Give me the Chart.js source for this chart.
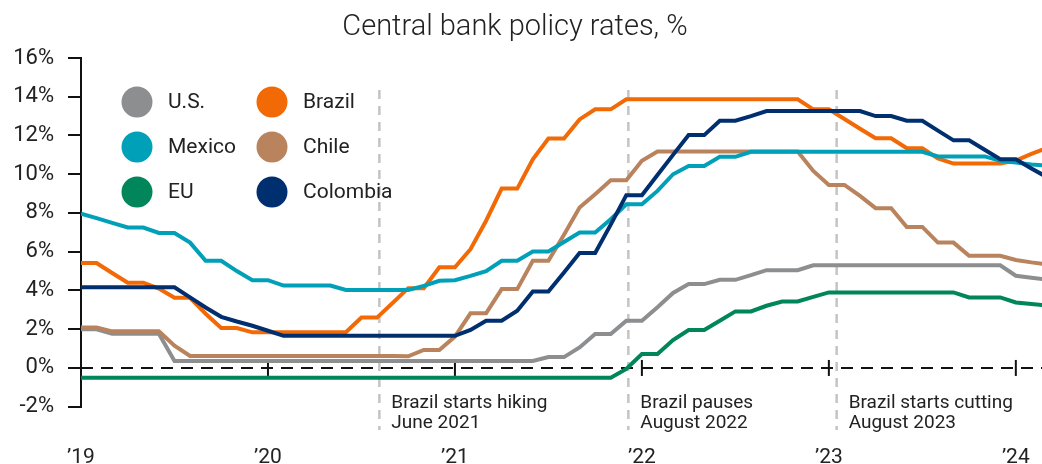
<!DOCTYPE html>
<html>
<head>
<meta charset="utf-8">
<title>Central bank policy rates</title>
<script src="https://cdn.jsdelivr.net/npm/chart.js@4.4.1/dist/chart.umd.min.js"></script>
<style>
  html, body { margin: 0; padding: 0; background: #fff; }
  #wrap { width: 1042px; height: 464px; }
</style>
</head>
<body>
<div id="wrap"><canvas id="rates" width="1042" height="464"></canvas></div>
<script>
// monthly points, Jan 2019 .. Mar 2024
const months = [];
for (let y = 2019; y <= 2024; y++) {
  for (let m = 1; m <= 12; m++) {
    if (months.length < 63) months.push(y + '-' + String(m).padStart(2, '0'));
  }
}

const yearTicks = [0, 12, 24, 36, 48, 60];
const yearLabels = ['’19', '’20', '’21', '’22', '’23', '’24'];

// policy rates, %
const usRate = [
  2.0, 2.0, 1.77, 1.77, 1.77, 1.77, 0.36, 0.36, 0.36, 0.36,
  0.36, 0.36, 0.36, 0.36, 0.36, 0.36, 0.36, 0.36, 0.36, 0.36,
  0.36, 0.36, 0.36, 0.36, 0.36, 0.36, 0.36, 0.36, 0.36, 0.36,
  0.56, 0.56, 1.06, 1.75, 1.75, 2.44, 2.44, 3.13, 3.87, 4.33,
  4.33, 4.55, 4.55, 4.79, 5.05, 5.05, 5.05, 5.3, 5.3, 5.3,
  5.3, 5.3, 5.3, 5.3, 5.3, 5.3, 5.3, 5.3, 5.3, 5.3,
  4.76, 4.66, 4.56
];
const mexicoRate = [
  7.97, 7.73, 7.49, 7.25, 7.25, 6.97, 6.97, 6.47, 5.53, 5.53,
  5.0, 4.53, 4.53, 4.25, 4.25, 4.25, 4.25, 4.03, 4.03, 4.03,
  4.03, 4.03, 4.24, 4.5, 4.53, 4.75, 5.0, 5.53, 5.53, 6.01,
  6.01, 6.5, 6.99, 6.99, 7.68, 8.45, 8.45, 9.14, 10.0, 10.43,
  10.43, 10.9, 10.9, 11.16, 11.16, 11.16, 11.16, 11.16, 11.16, 11.16,
  11.16, 11.16, 11.16, 11.16, 11.16, 10.92, 10.92, 10.92, 10.92, 10.7,
  10.6, 10.5, 10.45
];
const euRate = [
  -0.5, -0.5, -0.5, -0.5, -0.5, -0.5, -0.5, -0.5, -0.5, -0.5,
  -0.5, -0.5, -0.5, -0.5, -0.5, -0.5, -0.5, -0.5, -0.5, -0.5,
  -0.5, -0.5, -0.5, -0.5, -0.5, -0.5, -0.5, -0.5, -0.5, -0.5,
  -0.5, -0.5, -0.5, -0.5, -0.5, -0.05, 0.72, 0.72, 1.44, 1.96,
  1.96, 2.44, 2.92, 2.92, 3.21, 3.43, 3.43, 3.67, 3.9, 3.9,
  3.9, 3.9, 3.9, 3.9, 3.9, 3.9, 3.9, 3.64, 3.64, 3.64,
  3.38, 3.3, 3.22
];
const brazilRate = [
  5.42, 5.42, 4.9, 4.4, 4.4, 4.1, 3.62, 3.62, 2.8, 2.06,
  2.06, 1.84, 1.84, 1.84, 1.84, 1.84, 1.84, 1.84, 2.6, 2.6,
  3.35, 4.12, 4.12, 5.2, 5.2, 6.13, 7.6, 9.26, 9.26, 10.77,
  11.84, 11.84, 12.83, 13.35, 13.35, 13.87, 13.87, 13.87, 13.87, 13.87,
  13.87, 13.87, 13.87, 13.87, 13.87, 13.87, 13.87, 13.35, 13.35, 12.85,
  12.35, 11.86, 11.86, 11.34, 11.34, 10.82, 10.55, 10.55, 10.55, 10.55,
  10.7, 11.05, 11.35
];
const chileRate = [
  2.09, 2.09, 1.89, 1.89, 1.89, 1.89, 1.15, 0.62, 0.62, 0.62,
  0.62, 0.62, 0.62, 0.62, 0.62, 0.62, 0.62, 0.62, 0.62, 0.62,
  0.62, 0.6, 0.93, 0.93, 1.62, 2.82, 2.82, 4.07, 4.07, 5.53,
  5.53, 6.88, 8.28, 8.97, 9.69, 9.69, 10.69, 11.17, 11.17, 11.17,
  11.17, 11.17, 11.17, 11.17, 11.17, 11.17, 11.17, 10.17, 9.45, 9.45,
  8.88, 8.25, 8.25, 7.28, 7.28, 6.47, 6.47, 5.79, 5.79, 5.79,
  5.57, 5.45, 5.35
];
const colombiaRate = [
  4.16, 4.16, 4.16, 4.16, 4.16, 4.16, 4.16, 3.64, 3.12, 2.64,
  2.4, 2.18, 1.92, 1.66, 1.66, 1.66, 1.66, 1.66, 1.66, 1.66,
  1.66, 1.66, 1.66, 1.66, 1.66, 1.96, 2.44, 2.44, 2.95, 3.95,
  3.95, 4.93, 5.93, 5.93, 7.4, 8.92, 8.92, 9.96, 11.0, 12.02,
  12.02, 12.76, 12.76, 13.0, 13.26, 13.26, 13.26, 13.26, 13.26, 13.26,
  13.26, 13.0, 13.0, 12.76, 12.76, 12.25, 11.75, 11.75, 11.26, 10.77,
  10.77, 10.3, 9.85
];

const seriesNames = ['U.S.', 'Mexico', 'EU', 'Brazil', 'Chile', 'Colombia'];
const seriesValues = [usRate, mexicoRate, euRate, brazilRate, chileRate, colombiaRate];
const seriesColors = ['#8c8e90', '#00a0b8', '#00865a', '#f26a05', '#b9835e', '#002f6f'];
// stacking of the lines, 0 = drawn on top
const seriesLayer = [5, 1, 4, 3, 2, 0];

// event markers, in month index along the x axis
const eventAt = [19.15, 35.13, 48.5];
const eventText = [
  ['Brazil starts hiking', 'June 2021'],
  ['Brazil pauses', 'August 2022'],
  ['Brazil starts cutting', 'August 2023']
];

const textColor = '#222';
Chart.defaults.font.family = 'Roboto, "Noto Sans", sans-serif';

const datasets = seriesNames.map((name, i) => ({
  label: name,
  data: seriesValues[i].map((v, k) => ({ x: k, y: v })),
  borderColor: seriesColors[i],
  backgroundColor: seriesColors[i],
  borderWidth: 4,
  pointRadius: 0,
  tension: 0,
  fill: false,
  borderJoinStyle: 'miter',
  order: seriesLayer[i]
}));

// title, zero line, event lines, legend, notes
const decorations = {
  id: 'decorations',
  beforeDatasetsDraw(chart) {
    const c = chart.ctx;
    const xs = chart.scales.x;
    const ys = chart.scales.y;
    const area = chart.chartArea;
    const y0 = ys.getPixelForValue(0);
    c.save();

    // event lines
    c.strokeStyle = '#c4c4c4';
    c.lineWidth = 2.5;
    c.setLineDash([9, 7]);
    eventAt.forEach(at => {
      const x = xs.getPixelForValue(at);
      c.beginPath();
      c.moveTo(x, 90);
      c.lineTo(x, 430);
      c.stroke();
    });

    // zero line
    c.strokeStyle = '#111';
    c.lineWidth = 2;
    c.setLineDash([12, 8]);
    c.beginPath();
    c.moveTo(area.left, y0);
    c.lineTo(area.right, y0);
    c.stroke();

    // year ticks across the zero line
    c.setLineDash([]);
    yearTicks.forEach(v => {
      const x = xs.getPixelForValue(v);
      c.beginPath();
      c.moveTo(x, y0 - 8);
      c.lineTo(x, y0 + 8);
      c.stroke();
    });
    c.restore();
  },
  afterDraw(chart) {
    const c = chart.ctx;
    const xs = chart.scales.x;
    c.save();
    c.fillStyle = textColor;
    c.textBaseline = 'middle';

    c.textAlign = 'center';
    c.font = '300 29px Roboto, "Noto Sans", sans-serif';
    c.fillText('Central bank policy rates, %', 515, 28);

    // legend
    c.textAlign = 'left';
    c.font = '21px Roboto, "Noto Sans", sans-serif';
    chart.data.datasets.forEach((ds, i) => {
      const cx = i < 3 ? 137 : 272;
      const cy = 102 + (i % 3) * 45;
      c.fillStyle = ds.borderColor;
      c.beginPath();
      c.arc(cx, cy, 15.5, 0, Math.PI * 2);
      c.fill();
      c.fillStyle = textColor;
      c.fillText(ds.label, cx + 31, cy + 1);
    });

    // event notes
    c.font = '19px Roboto, "Noto Sans", sans-serif';
    eventAt.forEach((at, i) => {
      const x = xs.getPixelForValue(at) + 12;
      c.fillText(eventText[i][0], x, 403);
      c.fillText(eventText[i][1], x, 423);
    });
    c.restore();
  }
};

new Chart(document.getElementById('rates'), {
  type: 'line',
  data: { datasets: datasets },
  options: {
    responsive: false,
    animation: false,
    layout: { padding: { top: 58, right: 0, bottom: 0, left: 0 } },
    plugins: {
      legend: { display: false },
      title: { display: false },
      tooltip: { enabled: false }
    },
    scales: {
      x: {
        type: 'linear',
        min: 0,
        max: 61.68,
        grid: { display: false, drawTicks: false },
        border: { display: false },
        afterBuildTicks: scale => {
          scale.ticks = yearTicks.map(v => ({ value: v }));
        },
        afterFit: scale => {
          scale.height = 57.3;
          // labels sit low, keep them from shrinking the plot sideways
          scale.paddingLeft = 0;
          scale.paddingRight = 0;
        },
        ticks: {
          autoSkip: false,
          maxRotation: 0,
          padding: 38,
          color: textColor,
          font: { size: 21 },
          callback: (v, i) => yearLabels[i]
        }
      },
      y: {
        min: -2,
        max: 16,
        afterFit: scale => { scale.width = 81; },
        ticks: {
          stepSize: 2,
          padding: 14,
          color: textColor,
          font: { size: 22 },
          callback: v => v + '%'
        },
        grid: {
          drawOnChartArea: false,
          drawTicks: true,
          tickLength: 13,
          color: '#111',
          lineWidth: 2
        },
        border: { display: true, color: '#111', width: 2 }
      }
    }
  },
  plugins: [decorations]
});
</script>
</body>
</html>
